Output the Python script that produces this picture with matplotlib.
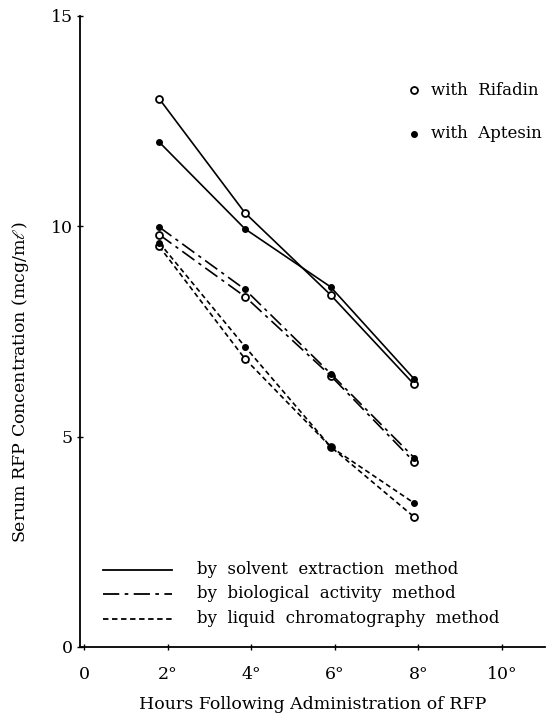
import matplotlib.pyplot as plt

plt.rcParams['font.family'] = ['DejaVu Serif']
plt.rcParams['mathtext.fontset'] = 'dejavuserif'

# sampling times (hours) and serum levels (mcg/ml)
hours = [1.8, 3.85, 5.9, 7.9]

solvent_rifadin = [13.03, 10.32, 8.37, 6.24]
solvent_aptesin = [12.0, 9.94, 8.56, 6.37]
bio_rifadin = [9.80, 8.33, 6.45, 4.40]
bio_aptesin = [9.98, 8.50, 6.50, 4.50]
lc_rifadin = [9.52, 6.85, 4.76, 3.09]
lc_aptesin = [9.61, 7.14, 4.76, 3.42]

methods = ['by solvent extraction method',
           'by biological activity method',
           'by liquid chromatography method']
styles = ['-', (0, (9, 3, 2, 3)), (0, (3, 2))]

fig = plt.figure(figsize=(5.51, 7.13), dpi=100)
ax = fig.add_axes([0.145, 0.0926, 0.844, 0.885])

series = [(solvent_rifadin, solvent_aptesin),
          (bio_rifadin, bio_aptesin),
          (lc_rifadin, lc_aptesin)]
for (rif, apt), ls in zip(series, styles):
    ax.plot(hours, rif, color='black', lw=1.2, linestyle=ls,
            marker='o', ms=5, mfc='white', mec='black', mew=1.3)
    ax.plot(hours, apt, color='black', lw=1.2, linestyle=ls,
            marker='o', ms=4, mfc='black', mec='black')

ax.set_xlim(-0.1, 11.03)
ax.set_ylim(0, 15)
ax.spines['top'].set_visible(False)
ax.spines['right'].set_visible(False)
ax.spines['left'].set_linewidth(1.3)
ax.spines['bottom'].set_linewidth(1.3)

ax.set_xticks([0, 2, 4, 6, 8, 10])
ax.set_xticklabels(['0', '2°', '4°', '6°', '8°', '10°'])
ax.set_yticks([0, 5, 10, 15])
ax.tick_params(direction='inout', length=4, width=1, labelsize=12.5)
ax.tick_params(axis='x', pad=12)
ax.tick_params(axis='y', pad=3)

ax.set_xlabel('Hours Following Administration of RFP', fontsize=12.5)
ax.xaxis.set_label_coords(0.5, -0.078)
ax.set_ylabel(r'Serum RFP Concentration (mcg/m$\ell$)', fontsize=12.5)
ax.yaxis.set_label_coords(-0.105, 0.42)

# marker key, upper right
ax.plot([7.9], [13.23], marker='o', ms=5, mfc='white', mec='black', mew=1.3)
ax.plot([7.9], [12.2], marker='o', ms=4, mfc='black', mec='black')
ax.text(8.3, 13.23, 'with  Rifadin', fontsize=12, va='center')
ax.text(8.3, 12.2, 'with  Aptesin', fontsize=12, va='center')

# line-style key, lower left
key_y = [1.83, 1.26, 0.67]
for y, ls, label in zip(key_y, styles, methods):
    ax.plot([0.45, 2.1], [y, y], color='black', lw=1.3, linestyle=ls)
    ax.text(2.7, y, label.replace(' ', '  '), fontsize=12, va='center')

fig.savefig('out.png', dpi=100)
